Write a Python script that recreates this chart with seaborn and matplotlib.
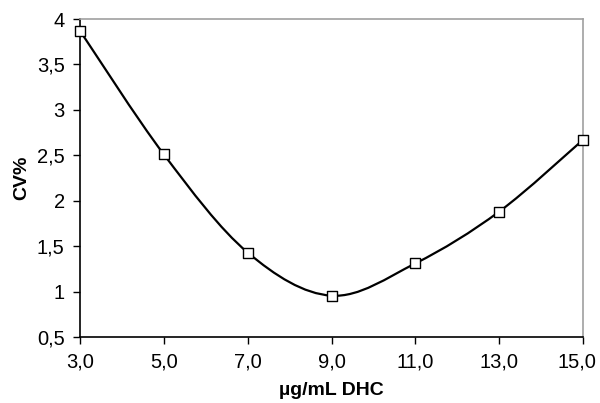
import numpy as np
import pandas as pd
import matplotlib
matplotlib.use("Agg")
import matplotlib.pyplot as plt
from matplotlib.path import Path
from matplotlib.patches import PathPatch
from matplotlib.ticker import FuncFormatter
from matplotlib.transforms import ScaledTranslation
import seaborn as sns

conc = [3.0, 5.0, 7.0, 9.0, 11.0, 13.0, 15.0]
cv = [3.87, 2.51, 1.43, 0.955, 1.31, 1.88, 2.67]
x_ticks = [3.0, 5.0, 7.0, 9.0, 11.0, 13.0, 15.0]
y_ticks = [0.5, 1.0, 1.5, 2.0, 2.5, 3.0, 3.5, 4.0]

sns.set_theme(style="white")
plt.rcParams['font.family'] = ['Liberation Sans', 'DejaVu Sans']
plt.rcParams['text.color'] = 'black'
plt.rcParams['axes.labelcolor'] = 'black'

df = pd.DataFrame({"conc": conc, "cv": cv})

fig = plt.figure(figsize=(6.0, 4.03), dpi=100)
ax = fig.add_axes([80/600, 1-337/403, 503/600, 318/403])

# Smoothed curve (Excel-style Bezier through the data points)
pts = np.column_stack([df["conc"].values, df["cv"].values])
verts = [tuple(pts[0])]
codes = [Path.MOVETO]
n = len(pts)
for i in range(n - 1):
    p0 = pts[i - 1] if i > 0 else pts[i]
    p1 = pts[i]
    p2 = pts[i + 1]
    p3 = pts[i + 2] if i + 2 < n else pts[i + 1]
    c1 = p1 + (p2 - p0) / 6.0
    c2 = p2 - (p3 - p1) / 6.0
    verts += [tuple(c1), tuple(c2), tuple(p2)]
    codes += [Path.CURVE4, Path.CURVE4, Path.CURVE4]
ax.add_patch(PathPatch(Path(verts, codes), facecolor="none", edgecolor="black",
                       lw=1.6, zorder=2))

sns.scatterplot(data=df, x="conc", y="cv", marker="s", s=45, color="white",
                edgecolor="black", linewidth=1.0, zorder=3, ax=ax, clip_on=False)

ax.set_xlim(3, 15)
ax.set_ylim(0.5, 4)
ax.set_xticks(x_ticks)
ax.set_yticks(y_ticks)
ax.xaxis.set_major_formatter(FuncFormatter(lambda v, p: f"{v:.1f}".replace(".", ",")))
ax.yaxis.set_major_formatter(FuncFormatter(lambda v, p: f"{v:g}".replace(".", ",")))
ax.tick_params(axis="both", which="major", direction="out", length=5, width=1,
               color="black", labelsize=14.5, labelcolor="black",
               left=True, bottom=True)
ax.tick_params(axis="x", pad=6)
ax.tick_params(axis="y", pad=6)

# keep the last x tick label inside the figure
last = ax.get_xticklabels()[-1]
last.set_transform(last.get_transform() + ScaledTranslation(-6/100, 0, fig.dpi_scale_trans))

for s in ["left", "bottom"]:
    ax.spines[s].set_color("black")
    ax.spines[s].set_linewidth(1.2)
for s in ["top", "right"]:
    ax.spines[s].set_color("#a0a0a0")
    ax.spines[s].set_linewidth(1.2)

ax.set_xlabel("µg/mL DHC", fontsize=14, fontweight="bold", labelpad=8, color="black")
ax.set_ylabel("CV%", fontsize=14, fontweight="bold", labelpad=5, color="black")
ax.grid(False)

fig.savefig("out.png", dpi=100)
